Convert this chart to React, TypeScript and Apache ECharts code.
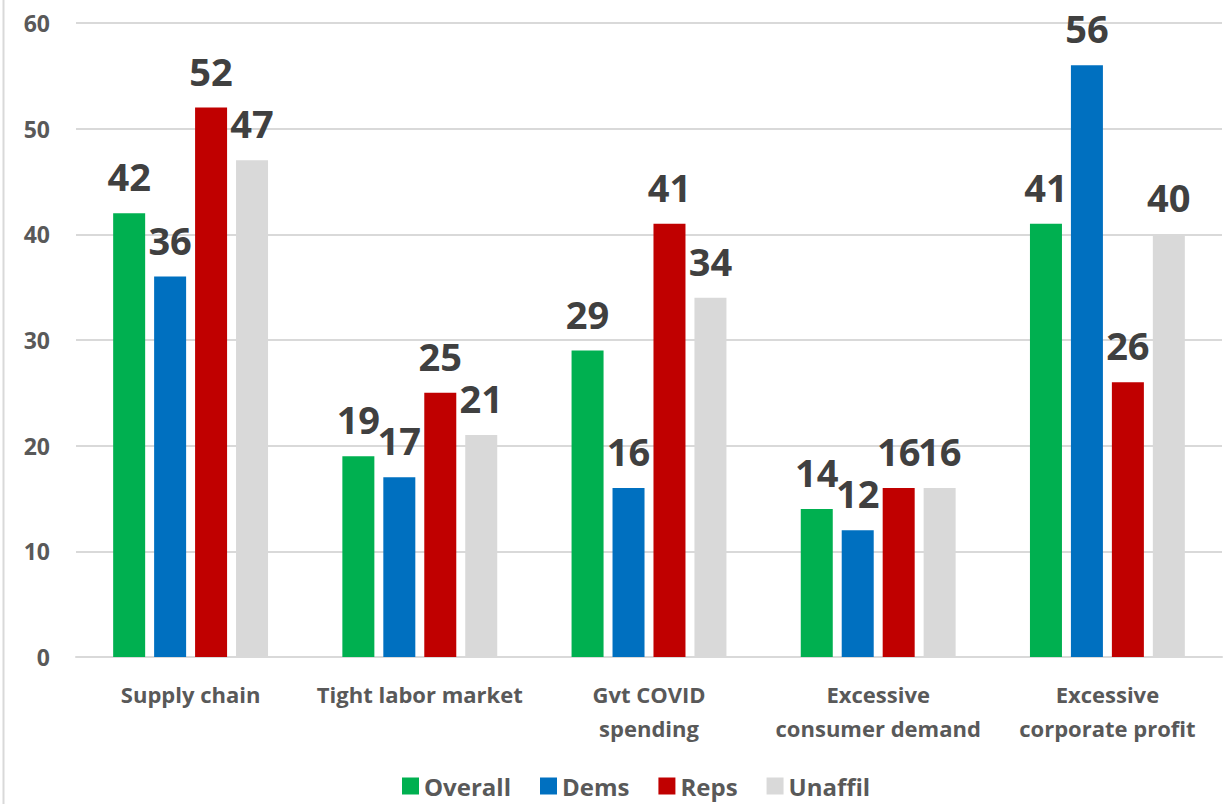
import React, { useEffect, useRef } from "react";
import * as echarts from "echarts";

const categories = [
  "Supply chain",
  "Tight labor market",
  "Gvt COVID\nspending",
  "Excessive\nconsumer demand",
  "Excessive\ncorporate profit",
];
const overall = [42, 19, 29, 14, 41];
const dems = [36, 17, 16, 12, 56];
const reps = [52, 25, 41, 16, 26];
const unaffil = [47, 21, 34, 16, 40];
const seriesNames = ["Overall", "Dems", "Reps", "Unaffil"];
const colors = ["#00B050", "#0070C0", "#C00000", "#D9D9D9"];
const yTicks = { min: 0, max: 60, interval: 10 };

const FONT = "'Open Sans', 'Noto Sans', sans-serif";

export default function App() {
  const ref = useRef<HTMLDivElement>(null);
  useEffect(() => {
    if (!ref.current) return;
    const chart = echarts.init(ref.current, undefined, { renderer: "svg" });
    const data = [overall, dems, reps, unaffil];
    chart.setOption({
      animation: false,
      textStyle: { fontFamily: FONT },
      grid: { left: 76, right: 3, top: 23, bottom: 147, containLabel: false },
      legend: {
        left: 397,
        top: 769,
        itemWidth: 17,
        itemHeight: 17,
        itemGap: 29,
        icon: "rect",
        textStyle: { fontFamily: FONT, fontSize: 24, fontWeight: "bold", color: "#595959", padding: [0, 0, 0, 0] },
        data: seriesNames,
      },
      graphic: [
        {
          type: "line",
          shape: { x1: 3.5, y1: 0, x2: 3.5, y2: 804 },
          style: { stroke: "#d9d9d9", lineWidth: 2 },
        },
      ],
      xAxis: {
        type: "category",
        data: categories,
        axisLine: { lineStyle: { color: "#d9d9d9", width: 2 } },
        axisTick: { show: false },
        axisLabel: {
          interval: 0,
          margin: 20,
          fontFamily: FONT,
          fontSize: 22,
          fontWeight: "bold",
          color: "#595959",
          lineHeight: 34,
        },
      },
      yAxis: {
        type: "value",
        min: yTicks.min,
        max: yTicks.max,
        interval: yTicks.interval,
        axisLine: { show: false },
        axisTick: { show: false },
        splitLine: { lineStyle: { color: "#d9d9d9", width: 2 } },
        axisLabel: {
          margin: 26,
          fontFamily: FONT,
          fontSize: 23,
          fontWeight: "bold",
          color: "#595959",
        },
      },
      series: seriesNames.map((name, i) => ({
        name,
        type: "bar",
        data: data[i],
        barWidth: 32,
        barGap: "28%",
        itemStyle: { color: colors[i] },
        label: {
          show: true,
          position: "top",
          distance: 18,
          fontFamily: FONT,
          fontSize: 38,
          fontWeight: "bold",
          color: "#404040",
        },
      })),
    });
    return () => chart.dispose();
  }, []);
  return (
    <div
      ref={ref}
      style={{ position: "fixed", left: 0, top: 0, width: 1225, height: 804, background: "#fff" }}
    />
  );
}
